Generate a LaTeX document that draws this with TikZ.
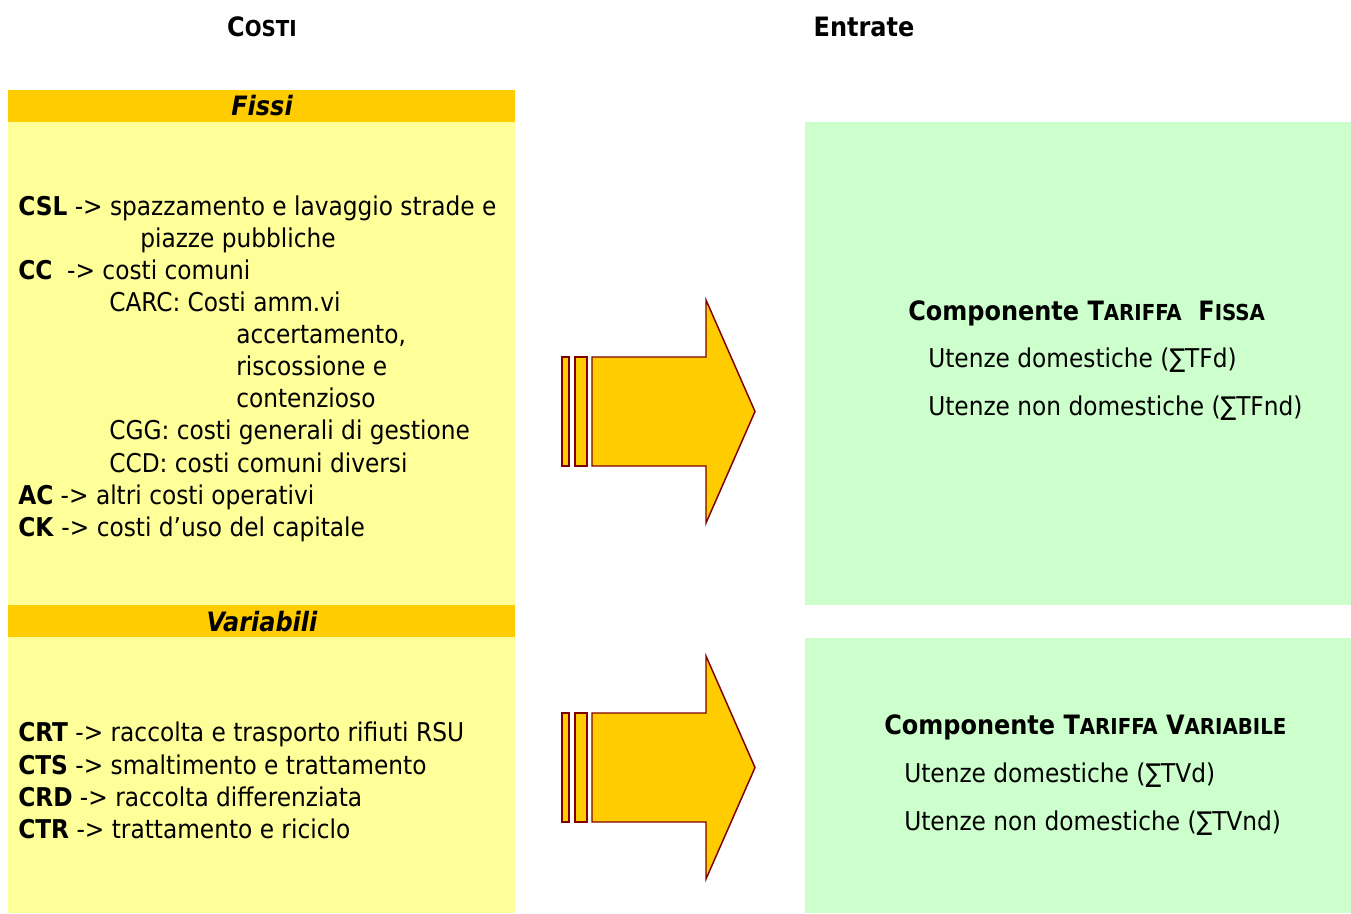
\documentclass[tikz,border=0pt]{standalone}
\usepackage{fontspec}
\setmainfont{DejaVu Sans Condensed}
\usepackage{tikz}
\usetikzlibrary{positioning}

\definecolor{barra}{HTML}{FFCC00}
\definecolor{giallo}{HTML}{FFFF99}
\definecolor{verde}{HTML}{CCFFCC}
\definecolor{bordo}{HTML}{800000}

% maiuscoletto finto
\newcommand{\capsc}[2]{#1{\fontsize{16.5}{18}\selectfont #2}}

\begin{document}
\begin{tikzpicture}[x=0.75pt,y=-0.75pt,
      riga/.style={anchor=base west,inner sep=0pt,font=\fontsize{19.4}{24}\selectfont},
      titolo/.style={anchor=base,inner sep=0pt,font=\bfseries\fontsize{20}{24}\selectfont},
      freccia/.style={draw=bordo,line width=1.1pt,fill=barra}]
                              % Bounding box
                              \useasboundingbox (0,0) rectangle (1351,913);

                              % Titles
                              \node[titolo] (costi) at (262,37) {\capsc{C}{OSTI}};
                              \node[titolo] (entrate) at (864,37) {Entrate};

                              % Left column
                              \fill[giallo] (8,122) rectangle (515,913);
                              \fill[barra] (8,90) rectangle (515,122);
                              \fill[barra] (8,605) rectangle (515,637);
                              \node[titolo,font=\bfseries\itshape\fontsize{20}{24}\selectfont] (fissi) at (262,116) {Fissi};
                              \node[titolo,font=\bfseries\itshape\fontsize{20}{24}\selectfont] (variabili) at (262,631) {Variabili};

                              % Fixed costs
                              \node[riga] (csl) at (18,215) {\textbf{CSL} -> spazzamento e lavaggio strade e};
                              \node[riga] (csl2) at (140,247) {piazze pubbliche};
                              \node[riga] (cc) at (18,279) {\textbf{CC}\ \ -> costi comuni};
                              \node[riga] (carc) at (109,311) {CARC: Costi amm.vi};
                              \node[riga] (carc2) at (236,343) {accertamento,};
                              \node[riga] (carc3) at (236,375) {riscossione e};
                              \node[riga] (carc4) at (236,407) {contenzioso};
                              \node[riga] (cgg) at (109,439) {CGG: costi generali di gestione};
                              \node[riga] (ccd) at (109,472) {CCD: costi comuni diversi};
                              \node[riga] (ac) at (18,504) {\textbf{AC} -> altri costi operativi};
                              \node[riga] (ck) at (18,536) {\textbf{CK} -> costi d’uso del capitale};

                              % Variable costs
                              \node[riga] (crt) at (18,741) {\textbf{CRT} -> raccolta e trasporto rifiuti RSU};
                              \node[riga] (cts) at (18,774) {\textbf{CTS} -> smaltimento e trattamento};
                              \node[riga] (crd) at (18,806) {\textbf{CRD} -> raccolta differenziata};
                              \node[riga] (ctr) at (18,838) {\textbf{CTR} -> trattamento e riciclo};

                              % Arrows
                              \foreach \dy in {0,356}{
                                    \draw[freccia] (562,357+\dy) rectangle (569,466+\dy);
                                    \draw[freccia] (575,357+\dy) rectangle (587,466+\dy);
                                    \draw[freccia] (592,357+\dy) -- (706,357+\dy) -- (706,300+\dy)
                                    -- (755,411.5+\dy) -- (706,523+\dy) -- (706,466+\dy)
                                    -- (592,466+\dy) -- cycle;
                              }

                              % Right column
                              \fill[verde] (805,122) rectangle (1351,605);
                              \fill[verde] (805,638) rectangle (1351,913);
                              \node[riga,font=\bfseries\fontsize{20}{24}\selectfont] (tf) at (908,320)
                                    {Componente \capsc{T}{ARIFFA}\ \ \capsc{F}{ISSA}};
                              \node[riga] (tfd) at (928,367) {Utenze domestiche (∑TFd)};
                              \node[riga] (tfnd) at (928,415) {Utenze non domestiche (∑TFnd)};
                              \node[riga,font=\bfseries\fontsize{20}{24}\selectfont] (tv) at (884,734)
                                    {Componente \capsc{T}{ARIFFA} \capsc{V}{ARIABILE}};
                              \node[riga] (tvd) at (904,782) {Utenze domestiche (∑TVd)};
                              \node[riga] (tvnd) at (904,830) {Utenze non domestiche (∑TVnd)};
                        \end{tikzpicture}
\end{document}
